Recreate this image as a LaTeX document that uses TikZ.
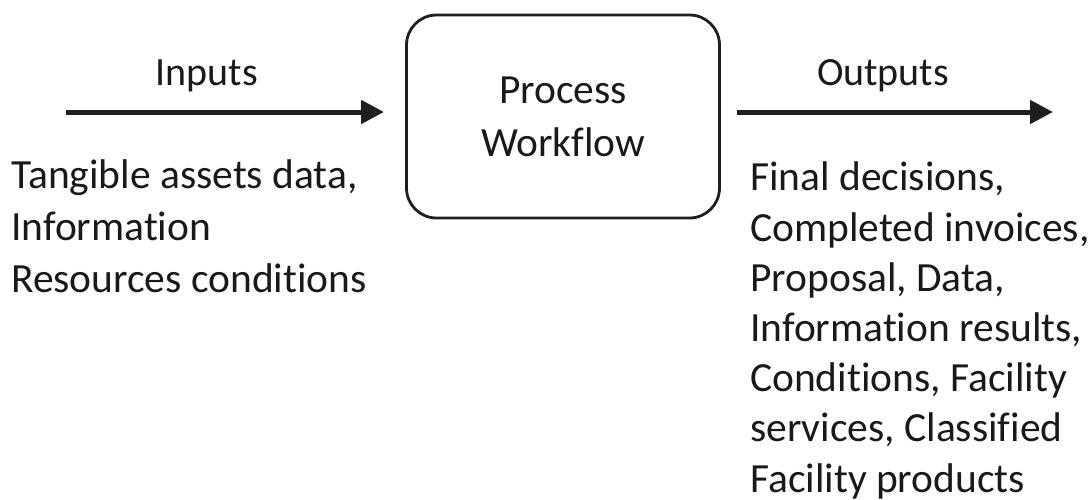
\documentclass[tikz,border=0pt]{standalone}
\usepackage{fontspec}
\setmainfont[Ligatures=NoCommon]{Carlito}
\usetikzlibrary{arrows.meta}
\begin{document}
\begin{tikzpicture}[x=1pt,y=-1pt,
  txt/.style={text=black!90, inner sep=0pt},
  flow/.style={line width=5pt, draw=black!88, -{Triangle[length=23pt,width=23pt]}},
  procbox/.style={draw=black!88, line width=2.8pt, rounded corners=30pt, minimum width=313pt, minimum height=203pt, align=center}]
\useasboundingbox (0,0) rectangle (1091,499);
\node[procbox, txt, font=\fontsize{41.5}{53}\selectfont] (pw) at (563,116.5) {Process\\Workflow};
\coordinate (inA) at (66,112);
\coordinate (inB) at (384,112);
\coordinate (outA) at (737,112);
\coordinate (outB) at (1053,112);
\draw[flow] (inA) -- (inB);
\draw[flow] (outA) -- (outB);
\node[txt, anchor=base, font=\fontsize{40}{50}\selectfont] (inlbl) at (207,85) {Inputs};
\node[txt, anchor=base, font=\fontsize{40}{50}\selectfont] (outlbl) at (883,85) {Outputs};
\node[txt, anchor=base west, align=left, font=\fontsize{41.5}{52}\selectfont] (intext) at (11,292) {Tangible assets data,\\Information\\Resources conditions};
\node[txt, anchor=base west, align=left, font=\fontsize{41.5}{50.2}\selectfont] (outtext) at (750,492) {Final decisions,\\Completed invoices,\\Proposal, Data,\\Information results,\\Conditions, Facility\\services, Classified\\Facility products};
\end{tikzpicture}
\end{document}
